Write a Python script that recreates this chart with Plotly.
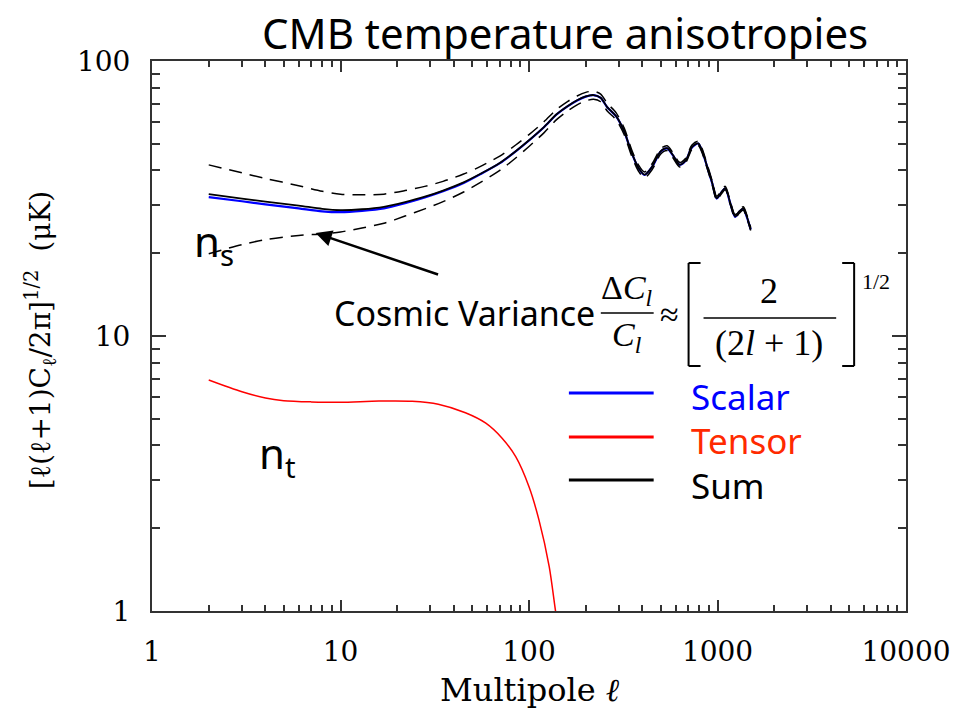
import plotly.graph_objects as go

# ---------------- data ----------------
ell = [2, 3, 4, 6, 8, 10, 13, 17, 22, 28, 35, 45, 55, 70, 85, 100, 120, 140, 160, 180,
       200, 220, 240, 260, 290, 320, 350, 380, 410, 450, 500, 540, 580, 630, 680, 730,
       790, 830, 880, 940, 990, 1050, 1100, 1170, 1240, 1300, 1370, 1430, 1500]
sum_vals = [32.8, 31.6, 30.8, 29.8, 29.0, 28.7, 28.9, 29.5, 30.7, 32.1, 33.8, 36.2, 38.8,
            42.6, 47.0, 51.5, 57.5, 64.0, 68.5, 72.0, 74.3, 75.2, 73.5, 68.0, 63.0, 55.5,
            46.5, 41.0, 38.6, 41.3, 47.0, 48.2, 45.5, 42.0, 43.6, 48.5, 50.2, 47.0, 41.5,
            35.8, 31.7, 33.4, 34.5, 30.4, 27.2, 28.3, 29.1, 27.2, 24.5]
scalar_vals = [32.0, 30.9, 30.1, 29.1, 28.4, 28.2, 28.5, 29.1, 30.4, 31.9, 33.6, 36.0, 38.7,
               42.5, 46.9, 51.4, 57.4, 63.9, 68.4, 71.9, 74.2, 75.1, 73.4, 67.9, 62.9, 55.4,
               46.4, 40.9, 38.5, 41.2, 46.9, 48.1, 45.4, 41.9, 43.5, 48.4, 50.1, 46.9, 41.4,
               35.7, 31.6, 33.3, 34.4, 30.3, 27.1, 28.2, 29.0, 27.1, 24.4]
upper_vals = [41.9, 39.2, 37.4, 35.2, 33.6, 32.8, 32.6, 32.8, 33.8, 35.0, 36.5, 38.8, 41.3,
              45.1, 49.5, 54.0, 60.1, 66.6, 71.2, 74.6, 76.9, 77.7, 75.8, 70.2, 64.8, 57.0,
              47.7, 42.0, 39.5, 42.3, 48.0, 49.2, 46.4, 42.8, 44.4, 49.4, 51.1, 47.8, 42.2,
              36.4, 32.2, 33.9, 35.0, 30.8, 27.6, 28.7, 29.5, 27.6, 24.8]
lower_vals = [19.9, 21.5, 22.4, 23.2, 23.5, 23.9, 24.7, 25.7, 27.3, 29.0, 30.8, 33.4, 36.1,
              40.0, 44.4, 48.9, 54.8, 61.2, 65.8, 69.3, 71.6, 72.6, 71.1, 65.8, 61.1, 53.9,
              45.2, 39.9, 37.6, 40.3, 45.9, 47.2, 44.5, 41.2, 42.8, 47.6, 49.3, 46.2, 40.8,
              35.2, 31.2, 32.9, 34.0, 30.0, 26.8, 27.9, 28.7, 26.8, 24.2]

ell_tensor = [2, 3, 4, 5, 7, 10, 16, 24, 33, 46, 59, 72, 85, 100, 113, 128, 138, 146]
tensor_vals = [6.92, 6.27, 5.95, 5.82, 5.76, 5.74, 5.80, 5.79, 5.65, 5.26, 4.82, 4.25, 3.64,
               2.83, 2.14, 1.45, 1.01, 0.78]

x_ticks = [1, 10, 100, 1000, 10000]
x_ticktext = ["1", "10", "100", "1000", "10000"]
y_ticks = [1, 10, 100]
y_ticktext = ["1", "10", "100"]

# ---------------- layout helpers (pixel -> paper) ----------------
W, H = 963, 711
L, R, T, B = 152, 55, 61, 100
PW, PH = W - L - R, H - T - B


def px(x):
    return (x - L) / PW


def py(y):
    return (H - B - y) / PH


AX = "#333333"
SERIF = "DejaVu Serif"
COMIC = "Noto Sans"
TIMES = "Liberation Serif"

minor_x = [m * 10 ** d for d in range(4) for m in range(2, 10)]
minor_y = [m * 10 ** d for d in range(2) for m in range(2, 10)]

fig = go.Figure()
fig.add_trace(go.Scatter(x=ell, y=scalar_vals, mode="lines", name="Scalar",
                         line=dict(color="#0000ff", width=2.2, shape="spline", smoothing=0.8)))
fig.add_trace(go.Scatter(x=ell, y=sum_vals, mode="lines", name="Sum",
                         line=dict(color="#000000", width=1.8, shape="spline", smoothing=0.8)))
fig.add_trace(go.Scatter(x=ell, y=upper_vals, mode="lines", name="upper",
                         line=dict(color="#000000", width=1.5, dash="13px,8px",
                                   shape="spline", smoothing=0.8)))
fig.add_trace(go.Scatter(x=ell, y=lower_vals, mode="lines", name="lower",
                         line=dict(color="#000000", width=1.5, dash="13px,8px",
                                   shape="spline", smoothing=0.8)))
fig.add_trace(go.Scatter(x=ell_tensor, y=tensor_vals, mode="lines", name="Tensor",
                         line=dict(color="#ff0000", width=1.5, shape="spline", smoothing=0.8)))

axis_common = dict(showgrid=False, zeroline=False, showline=True, linecolor=AX, linewidth=2,
                   mirror="ticks", ticks="inside", tickcolor=AX, tickwidth=1.5,
                   tickfont=dict(family=SERIF, size=28, color="black"))

fig.update_xaxes(type="log", range=[0, 4], tickvals=x_ticks, ticktext=x_ticktext,
                 ticklen=11, ticklabelstandoff=14,
                 minor=dict(ticks="inside", ticklen=6, tickwidth=1.5, tickcolor=AX,
                            tickvals=minor_x, showgrid=False),
                 **axis_common)
fig.update_yaxes(type="log", range=[0, 2], tickvals=y_ticks, ticktext=y_ticktext,
                 ticklen=14, ticklabelstandoff=14,
                 minor=dict(ticks="inside", ticklen=8, tickwidth=1.5, tickcolor=AX,
                            tickvals=minor_y, showgrid=False),
                 **axis_common)

ann = []


def text(x, y, s, size, family, color="black", xanchor="center", yanchor="middle", angle=0):
    ann.append(dict(x=px(x), y=py(y), xref="paper", yref="paper", text=s, showarrow=False,
                    font=dict(family=family, size=size, color=color),
                    xanchor=xanchor, yanchor=yanchor, textangle=angle))


# title
text(566, 33, "CMB temperature anisotropies", 42, COMIC)
# axis titles
text(531, 690, "Multipole <i>ℓ</i>", 32, SERIF)
text(40, 340, "[ℓ(ℓ+1)C<sub>ℓ</sub>/2π]<sup>1/2</sup>  (μK)", 28, SERIF, angle=-90)
# n_s / n_t
text(214, 243, "n<sub>s</sub>", 42, COMIC)
text(278, 455, "n<sub>t</sub>", 42, COMIC)
# cosmic variance
text(598, 313, "Cosmic Variance", 34, COMIC, xanchor="right")
text(628, 290, "Δ<i>C</i><sub><i>l</i></sub>", 34, TIMES)
text(628, 337, "<i>C</i><sub><i>l</i></sub>", 34, TIMES)
text(671, 314, "≈", 34, TIMES)
text(771, 291, "2", 36, TIMES)
text(771, 343, "(2<i>l</i> + 1)", 36, TIMES)
text(878, 281, "1/2", 22, TIMES)
# legend texts
text(690, 396, "Scalar", 35, COMIC, color="#0000ff", xanchor="left")
text(690, 440, "Tensor", 35, COMIC, color="#ff2a00", xanchor="left")
text(690, 485, "Sum", 35, COMIC, color="black", xanchor="left")
# arrow
ann.append(dict(x=px(316), y=py(233), xref="paper", yref="paper", ax=124, ay=42,
                axref="pixel", ayref="pixel", text="", showarrow=True, arrowhead=2,
                arrowsize=1.3, arrowwidth=2.5, arrowcolor="black", standoff=0))

shapes = []


def hline(x0, x1, y, color="black", width=1.5):
    shapes.append(dict(type="line", xref="paper", yref="paper", x0=px(x0), x1=px(x1),
                       y0=py(y), y1=py(y), line=dict(color=color, width=width)))


def vline(x, y0, y1, width=1.5):
    shapes.append(dict(type="line", xref="paper", yref="paper", x0=px(x), x1=px(x),
                       y0=py(y0), y1=py(y1), line=dict(color="black", width=width)))


# formula bars and brackets
hline(602, 655, 313)
hline(705, 838, 318)
vline(690, 263, 366, 2)
hline(690, 702, 263, width=2)
hline(690, 702, 366, width=2)
vline(856, 263, 366, 2)
hline(844, 856, 263, width=2)
hline(844, 856, 366, width=2)
# legend samples
hline(570, 655, 393, "#0000ff", 3)
hline(570, 655, 437, "#ff0000", 3)
hline(570, 655, 480, "#000000", 3)

fig.update_layout(width=W, height=H, margin=dict(l=L, r=R, t=T, b=B),
                  paper_bgcolor="white", plot_bgcolor="white", showlegend=False,
                  annotations=ann, shapes=shapes)

fig.write_html("out.html")
